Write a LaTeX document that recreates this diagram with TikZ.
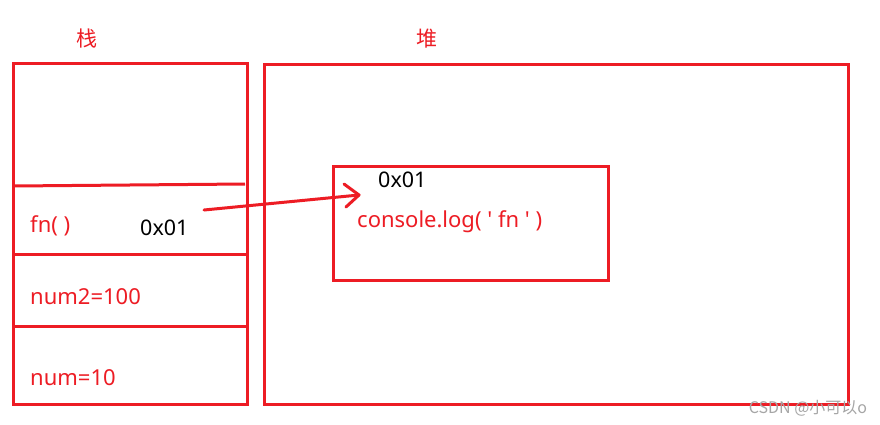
\documentclass[tikz,border=0pt]{standalone}
\usepackage{fontspec}
\setmainfont{Noto Sans}[Ligatures=TeXOff]
\newfontfamily\cjk{Noto Sans CJK SC}
\definecolor{pred}{HTML}{ED1C24}
\begin{document}
\begin{tikzpicture}[x=1pt,y=-1pt,
  box/.style={draw=pred,line width=3pt},
  rtxt/.style={text=pred,font=\fontsize{22}{24}\selectfont,inner sep=0pt},
  btxt/.style={text=black,font=\fontsize{21.5}{24}\selectfont,inner sep=0pt},
  ttl/.style={text=pred,font=\cjk\fontsize{21}{24}\selectfont,inner sep=0pt},
  conn/.style={draw=pred,line width=3pt,line cap=round,line join=round}]
\useasboundingbox (0,0) rectangle (880,424);
\fill[white] (0,0) rectangle (880,424);
% stack
\draw[box] (13,63) rectangle (247,404);
\coordinate (d1a) at (13,186); \coordinate (d1b) at (245,184);
\draw[conn,line cap=butt] (d1a) -- (d1b);
\draw[box] (13,254) -- (247,254);
\draw[box] (13,326) -- (247,326);
% heap
\draw[box] (264,64) rectangle (848,404);
\draw[box] (333,166) rectangle (608,280);
% titles
\node[ttl] (zhan) at (87,39) {栈};
\node[ttl] (dui) at (427,39) {堆};
% stack texts
\node[rtxt,anchor=west] (fn) at (30,226) {fn( )};
\node[btxt,anchor=west] (addr1) at (140,228) {0x01};
\node[rtxt,anchor=west] (num2) at (30,297) {num2=100};
\node[rtxt,anchor=west] (num) at (30,378) {num=10};
% heap texts
\node[btxt,anchor=west] (addr2) at (378,180) {0x01};
\node[rtxt,anchor=west] (log) at (357,222) {console.log( ' fn ' )};
% arrow
\coordinate (as) at (204,210);
\coordinate (ae) at (359,195);
\coordinate (t1) at (344,184);
\coordinate (t2) at (346,207);
\draw[conn] (as) -- (ae);
\draw[conn] (t1) -- (ae) -- (t2);
% watermark
\node[text=gray!70,font=\cjk\fontsize{16}{18}\selectfont,inner sep=0pt] (wm) at (808,408) {CSDN @小可以o};
\end{tikzpicture}
\end{document}
